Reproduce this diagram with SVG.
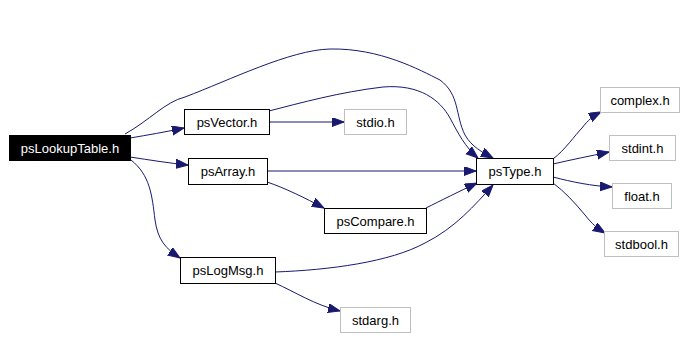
<svg xmlns="http://www.w3.org/2000/svg" width="690" height="338" viewBox="0 0 690 338">
<defs>
<marker id="ah" markerUnits="userSpaceOnUse" markerWidth="14" markerHeight="10" refX="12" refY="4.5" orient="auto">
<path d="M0,0 L12,4.5 L0,9 z" fill="#191970" stroke="#191970" stroke-width="1"/>
</marker>
<style>
.e{fill:none;stroke:#191970;stroke-width:1;marker-end:url(#ah)}
.n rect{fill:#ffffff;stroke:#000000;stroke-width:1}
.s rect{fill:#ffffff;stroke:#bfbfbf;stroke-width:1}
text{font-family:"Liberation Sans",Arial,sans-serif;font-size:13px;text-anchor:middle;fill:#000000}
</style>
</defs>
<rect width="690" height="338" fill="#ffffff"/>
<g id="edges">
<path class="e" d="M130,138 C148,135 165,132 184,128"/>
<path class="e" d="M130,157 C150,160 168,163 188,165"/>
<path class="e" d="M131,160 C150,175 152,195 155,220 C158,240 165,248 180,258"/>
<path class="e" d="M125,134 C150,120 165,102 185,97 C230,80 290,50 330,49 C380,48 420,70 440,80 C460,95 455,115 465,135 C472,147 482,152 493,158"/>
<path class="e" d="M269,111 C300,103 340,92 383,87 C420,84 440,100 450,118 C458,133 465,147 478,158"/>
<path class="e" d="M269,122 L344,122"/>
<path class="e" d="M267,171 L476,171"/>
<path class="e" d="M267,182 C285,188 305,198 324,208"/>
<path class="e" d="M426,208 C440,201 460,191 477,183"/>
<path class="e" d="M275,272 C330,270 390,262 425,243 C455,228 475,205 493,185"/>
<path class="e" d="M275,283 C295,292 315,305 340,311"/>
<path class="e" d="M553,159 C565,150 575,135 582,128 C588,120 593,116 601,112"/>
<path class="e" d="M553,164 C570,160 590,156 609,152"/>
<path class="e" d="M553,177 C572,182 592,186 612,187"/>
<path class="e" d="M553,183 C565,192 575,203 585,215 C592,224 597,228 605,233"/>
</g>
<g id="psLookupTable"><rect x="9.5" y="135.5" width="121" height="25" fill="#000000" stroke="#000000"/><text x="70" y="152.5" style="fill:#ffffff">psLookupTable.h</text></g>
<g id="psVector" class="n"><rect x="184.5" y="109.5" width="85" height="25"/><text x="227" y="126.5">psVector.h</text></g>
<g id="psArray" class="n"><rect x="188.5" y="158.5" width="79" height="26"/><text x="228" y="176">psArray.h</text></g>
<g id="psLogMsg" class="n"><rect x="180.5" y="257.5" width="95" height="26"/><text x="228" y="275">psLogMsg.h</text></g>
<g id="stdio" class="s"><rect x="344.5" y="109.5" width="62" height="25"/><text x="375.5" y="126.5">stdio.h</text></g>
<g id="psType" class="n"><rect x="476.5" y="158.5" width="77" height="26"/><text x="515" y="176">psType.h</text></g>
<g id="psCompare" class="n"><rect x="324.5" y="208.5" width="102" height="25"/><text x="375.5" y="225.5">psCompare.h</text></g>
<g id="complex" class="s"><rect x="600.5" y="87.5" width="79" height="25"/><text x="640" y="104.5">complex.h</text></g>
<g id="stdint" class="s"><rect x="609.5" y="135.5" width="66" height="25"/><text x="642.5" y="152.5">stdint.h</text></g>
<g id="float" class="s"><rect x="612.5" y="183.5" width="59" height="25"/><text x="642" y="200.5">float.h</text></g>
<g id="stdbool" class="s"><rect x="604.5" y="231.5" width="74" height="25"/><text x="641.5" y="248.5">stdbool.h</text></g>
<g id="stdarg" class="s"><rect x="340.5" y="307.5" width="70" height="25"/><text x="375.5" y="324.5">stdarg.h</text></g>
</svg>
